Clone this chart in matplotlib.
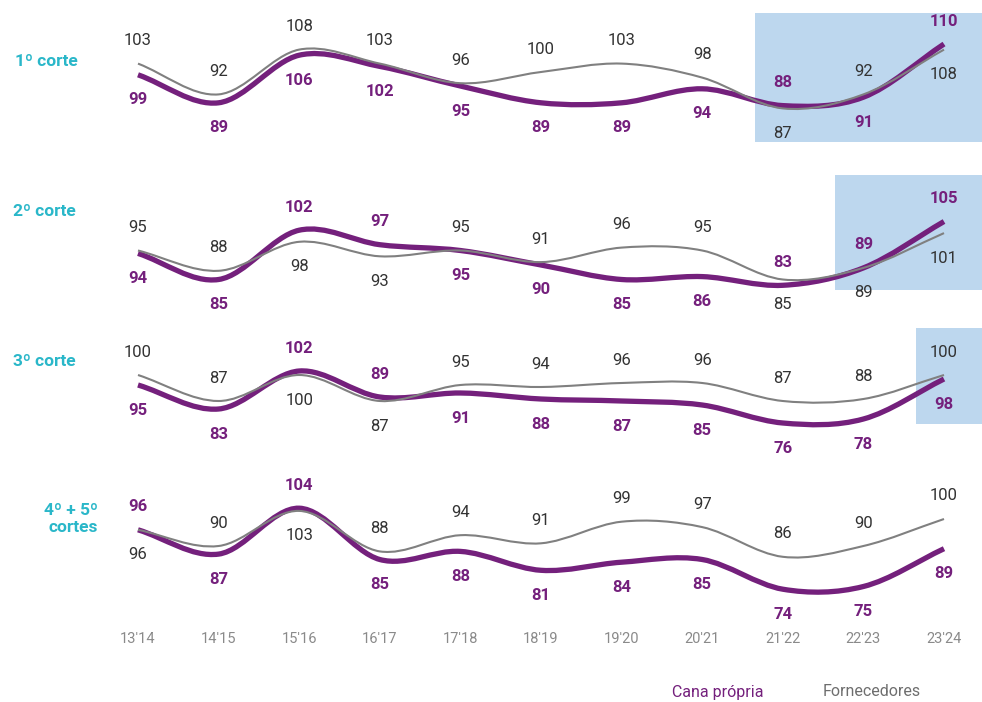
import numpy as np
import matplotlib.pyplot as plt
from matplotlib.path import Path
from matplotlib.patches import PathPatch

plt.rcParams['font.family'] = ['Roboto', 'DejaVu Sans']

# data
seasons = ["13'14", "14'15", "15'16", "16'17", "17'18", "18'19",
           "19'20", "20'21", "21'22", "22'23", "23'24"]
row_titles = ["1º corte", "2º corte", "3º corte", "4º + 5º\ncortes"]
propria = [
    [99, 89, 106, 102, 95, 89, 89, 94, 88, 91, 110],
    [94, 85, 102, 97, 95, 90, 85, 86, 83, 89, 105],
    [95, 83, 102, 89, 91, 88, 87, 85, 76, 78, 98],
    [96, 87, 104, 85, 88, 81, 84, 85, 74, 75, 89],
]
fornecedores = [
    [103, 92, 108, 103, 96, 100, 103, 98, 87, 92, 108],
    [95, 88, 98, 93, 95, 91, 96, 95, 85, 89, 101],
    [100, 87, 100, 87, 95, 94, 96, 96, 87, 88, 100],
    [96, 90, 103, 88, 94, 91, 99, 97, 86, 90, 100],
]
# which series gets its label above the line ('p' = propria, 'g' = fornecedores)
label_on_top = ["ggggggggpgp", "ggppggggppp", "ggppggggggg", "pgpgggggggg"]
highlight_from = [8, 9, 10, None]

PURPLE = '#74207c'
GRAY = '#808080'
CYAN = '#2ab7c9'
BOX = '#bdd7ee'

W, H = 982, 702
# row bands in pixels (top, bottom), pixel of value 100 and pixels per unit
bands = [(0, 160), (160, 315), (315, 460), (460, 625)]
center = [72, 236, 375, 519]
scale = [2.8, 2.9, 2.0, 2.7]
boxes = [(13, 142), (175, 290), (328, 424), None]
x0_px, step_px = 138, 80.6


def smooth_path(x, y):
    # catmull-rom curve through the points, as bezier segments
    x = np.asarray(x, float)
    y = np.asarray(y, float)
    m = np.zeros_like(y)
    m[1:-1] = (y[2:] - y[:-2]) / (x[2:] - x[:-2])
    m[0] = (y[1] - y[0]) / (x[1] - x[0])
    m[-1] = (y[-1] - y[-2]) / (x[-1] - x[-2])
    verts = [(x[0], y[0])]
    codes = [Path.MOVETO]
    for i in range(len(x) - 1):
        dx = (x[i + 1] - x[i]) / 3
        verts += [(x[i] + dx, y[i] + m[i] * dx), (x[i + 1] - dx, y[i + 1] - m[i + 1] * dx), (x[i + 1], y[i + 1])]
        codes += [Path.CURVE4] * 3
    return Path(verts, codes)


fig = plt.figure(figsize=(W / 100, H / 100), dpi=100)
xs = np.arange(len(seasons))
xlim = (-x0_px / step_px, (W - x0_px) / step_px)

for r in range(4):
    top, bot = bands[r]
    ax = fig.add_axes([0, 1 - bot / H, 1, (bot - top) / H])
    ax.set_xlim(*xlim)
    ax.set_ylim(100 - (bot - center[r]) / scale[r], 100 + (center[r] - top) / scale[r])
    ax.axis('off')

    if highlight_from[r] is not None:
        bt, bb = boxes[r]
        ax.axvspan(highlight_from[r] - 0.35, xlim[1], ymin=(bot - bb) / (bot - top),
                   ymax=(bot - bt) / (bot - top), color=BOX, lw=0, zorder=0)

    ax.add_patch(PathPatch(smooth_path(xs, propria[r]), fill=False, ec=PURPLE, lw=3.8,
                           capstyle='butt', zorder=2))
    ax.add_patch(PathPatch(smooth_path(xs, fornecedores[r]), fill=False, ec=GRAY, lw=1.5,
                           capstyle='butt', zorder=3))

    for i in xs:
        up = label_on_top[r][i]
        for key, vals, col, wt in (('p', propria[r], PURPLE, 'bold'), ('g', fornecedores[r], '#333333', 'normal')):
            dy = 23 if up == key else -25
            ax.annotate(str(vals[i]), (i, vals[i]), xytext=(0, dy), textcoords='offset pixels',
                        ha='center', va='center', fontsize=12, color=col, fontweight=wt, zorder=4)

    if r == 3:
        ax.axis('on')
        for sp in ax.spines.values():
            sp.set_visible(False)
        ax.set_yticks([])
        ax.set_xticks(xs)
        ax.set_xticklabels(seasons, fontsize=10.5, color='#8a8a8a')
        ax.tick_params(axis='x', length=0, pad=5)
        ax.patch.set_visible(False)

title_kw = dict(va='center', color=CYAN, fontsize=12.5, fontweight='bold')
fig.text(46 / W, 1 - 62 / H, row_titles[0], ha='center', **title_kw)
fig.text(44 / W, 1 - 212 / H, row_titles[1], ha='center', **title_kw)
fig.text(44 / W, 1 - 362 / H, row_titles[2], ha='center', **title_kw)
fig.text(98 / W, 1 - 519 / H, row_titles[3], ha='right', linespacing=1.1, **title_kw)

fig.text(718 / W, 1 - 692 / H, 'Cana própria', ha='center', va='center', color=PURPLE, fontsize=11.5)
fig.text(872 / W, 1 - 692 / H, 'Fornecedores', ha='center', va='center', color='#6e6e6e', fontsize=11.5)

fig.savefig('out.png', dpi=100)
